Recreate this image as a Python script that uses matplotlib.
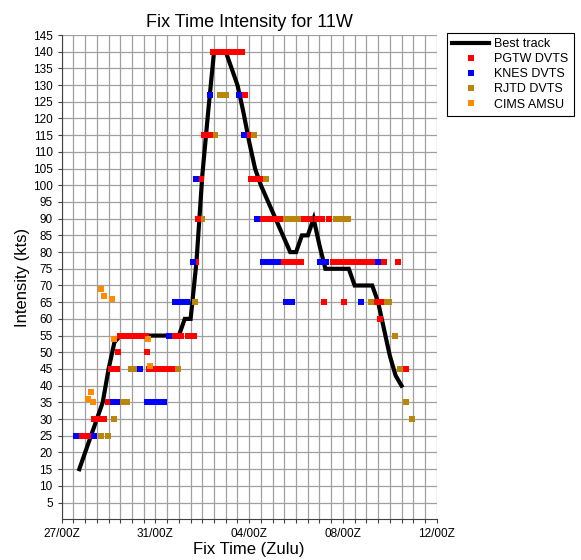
import numpy as np
import matplotlib
matplotlib.use("Agg")
import matplotlib.pyplot as plt
from matplotlib.ticker import MultipleLocator

plt.rcParams['font.family'] = ['Liberation Sans', 'DejaVu Sans']

# horas desde 27/00Z
best_h = [18, 24, 30, 36, 42, 48, 54, 60, 66, 72, 78, 84, 90, 96, 102, 108, 114, 120,
          126, 132, 138, 144, 150, 156, 162, 168, 174, 180, 186, 192, 198, 204, 210,
          216, 222, 228, 234, 240, 246, 252, 258, 264, 270, 276, 282, 288, 294, 300,
          306, 312, 318, 324, 330, 336, 342, 348]
best_v = [15, 20, 25, 30, 35, 45, 53, 55, 55, 55, 55, 55, 55, 55, 55, 55, 55, 55,
          60, 60, 77, 103, 122, 140, 140, 140, 135, 130, 122, 113, 105, 100, 96,
          92, 88, 84, 80, 80, 85, 85, 90, 82, 75, 75, 75, 75, 75, 70,
          70, 70, 70, 65, 57, 49, 43, 40]

pgtw_h = [18, 24, 30, 33, 38, 43, 47, 50, 57, 89, 95, 101, 107, 113, 58, 87,
          60, 66, 72, 78, 84, 86, 116, 122, 129, 135, 137.5, 140, 143, 146, 152,
          155, 161, 167, 173, 179, 185, 188, 191, 194, 199, 203,
          206, 212, 218, 224, 248, 254, 261, 267, 274,
          227, 233, 239, 245, 278, 284, 290, 296, 302, 308, 314, 320, 330, 344,
          269, 289, 323, 327, 326, 353]
pgtw_v = [25, 25, 25, 30, 30, 30, 35, 45, 45, 45, 45, 45, 45, 45, 50, 50,
          55, 55, 55, 55, 55, 55, 55, 55, 55, 55, 77, 90, 102, 115, 115,
          140, 140, 140, 140, 140, 140, 127, 115, 102, 102, 102,
          90, 90, 90, 90, 90, 90, 90, 90, 90,
          77, 77, 77, 77, 77, 77, 77, 77, 77, 77, 77, 77, 77, 77,
          65, 65, 65, 65, 60, 45]

knes_h = [15, 33, 53, 57, 87, 93, 99, 105, 80, 110, 116, 122, 128, 134, 138, 152,
          182, 187, 200, 206, 211, 216, 221, 265, 271, 324, 230, 236, 307]
knes_v = [25, 25, 35, 35, 35, 35, 35, 35, 45, 55, 65, 65, 65, 77, 102, 127,
          127, 115, 90, 77, 77, 77, 77, 77, 77, 77, 65, 65, 65]

rjtd_h = [40, 47, 54, 62, 67, 71, 74, 119, 137, 144, 157, 162, 168, 197, 209,
          230, 236, 242, 281, 287, 293, 317, 332, 335, 341, 346, 353, 359]
rjtd_v = [25, 25, 30, 35, 35, 45, 45, 45, 65, 90, 115, 127, 127, 115, 102,
          90, 90, 90, 90, 90, 90, 65, 65, 65, 55, 45, 35, 30]

cims_h = [27, 30, 32, 40, 43, 51, 54, 88, 90]
cims_v = [36, 38, 35, 69, 67, 66, 54, 54, 46]

tick_h = [0, 96, 192, 288, 384]
tick_lbl = ['27/00Z', '31/00Z', '04/00Z', '08/00Z', '12/00Z']

fig = plt.figure(figsize=(5.81, 5.60), dpi=100)
ax = fig.add_axes([0.1062, 0.0727, 0.6454, 0.8648])

ax.plot(best_h, best_v, color='black', linewidth=3.0, zorder=2, label='Best track',
        solid_joinstyle='miter')
ms = 4.6
ax.plot(pgtw_h, pgtw_v, 's', color='#ff0000', markersize=ms, markeredgewidth=0,
        zorder=4, label='PGTW DVTS')
ax.plot(knes_h, knes_v, 's', color='#0000ff', markersize=ms, markeredgewidth=0,
        zorder=5, label='KNES DVTS')
ax.plot(rjtd_h, rjtd_v, 's', color='#b8860b', markersize=ms, markeredgewidth=0,
        zorder=3, label='RJTD DVTS')
ax.plot(cims_h, cims_v, 's', color='#ff8c00', markersize=ms, markeredgewidth=0,
        zorder=6, label='CIMS AMSU')

ax.set_xlim(0, 384)
ax.set_ylim(0, 145)
ax.set_xticks(tick_h)
ax.set_xticklabels(tick_lbl)
ax.xaxis.set_minor_locator(MultipleLocator(12))
ax.set_yticks(np.arange(5, 146, 5))
ax.grid(True, which='both', color='#a0a0a0', linewidth=0.9, zorder=0)
ax.set_axisbelow(True)
ax.tick_params(axis='both', which='both', direction='out', length=3, width=0.8,
               color='#404040', labelsize=8.5)
ax.tick_params(axis='x', which='minor', length=3)
for s in ['top', 'right']:
    ax.spines[s].set_visible(False)
for s in ['left', 'bottom']:
    ax.spines[s].set_color('#404040')

ax.set_title('Fix Time Intensity for 11W', fontsize=13, pad=6)
ax.set_xlabel('Fix Time (Zulu)', fontsize=12, labelpad=1)
ax.set_ylabel('Intensity (kts)', fontsize=12, labelpad=2)

leg = ax.legend(loc='upper left', bbox_to_anchor=(0.769, 0.941),
                bbox_transform=fig.transFigure, fontsize=9, frameon=True,
                fancybox=False, edgecolor='black', framealpha=1,
                handlelength=3.0, handletextpad=0.4, labelspacing=0.25,
                borderpad=0.4, borderaxespad=0, markerscale=0.9)
leg.get_frame().set_linewidth(0.8)

fig.savefig('out.png', dpi=100)
